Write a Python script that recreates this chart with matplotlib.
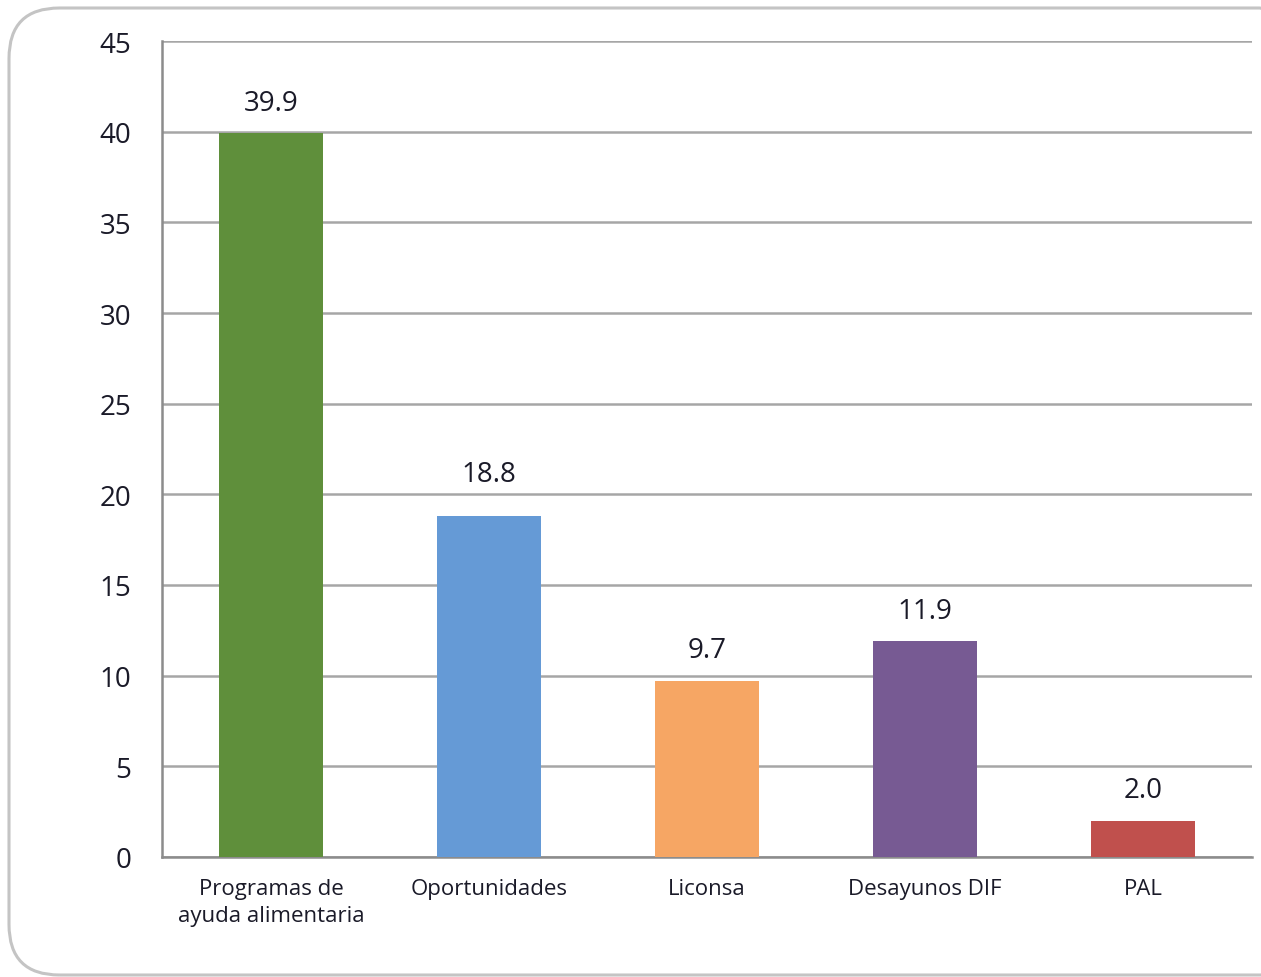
import matplotlib
matplotlib.use("Agg")
import matplotlib.pyplot as plt
from matplotlib.patches import FancyBboxPatch

categories = ["Programas de\nayuda alimentaria", "Oportunidades", "Liconsa", "Desayunos DIF", "PAL"]
values = [39.9, 18.8, 9.7, 11.9, 2.0]
colors = ["#5f8f3b", "#659ad6", "#f6a664", "#775a93", "#c0504d"]
yticks = [0, 5, 10, 15, 20, 25, 30, 35, 40, 45]
label_offsets = [12, 20, 12, 12, 12]

plt.rcParams['font.family'] = ['Open Sans', 'DejaVu Sans']
TXT = "#1a1a28"

fig = plt.figure(figsize=(12.61, 9.78), dpi=100)
W, H = 1261, 978

# rounded border
box = FancyBboxPatch((9 / W, 2 / H), (W + 40) / W, (H - 11) / H,
                     boxstyle="round,pad=0,rounding_size=0.04",
                     transform=fig.transFigure, fill=False,
                     edgecolor="#c4c4c4", linewidth=2.2, mutation_aspect=W / H)
fig.patches.append(box)

ax = fig.add_axes([162 / W, 1 - 858 / H, 1090 / W, 816 / H])
x = list(range(len(categories)))
ax.bar(x, values, width=0.48, color=colors, zorder=3)
ax.set_xlim(-0.5, len(categories) - 0.5)
ax.set_ylim(0, 45)
ax.set_yticks(yticks)
ax.set_yticklabels([str(t) for t in yticks])
ax.set_xticks(x)
ax.set_xticklabels(categories, fontsize=16, color=TXT, linespacing=1.4)
ax.tick_params(axis='y', labelsize=20, colors=TXT, length=0, pad=22)
ax.tick_params(axis='x', length=0, pad=15)
ax.yaxis.grid(True, color="#a6a6a6", linewidth=1.8, zorder=0)
ax.set_axisbelow(True)
for s in ["top", "right"]:
    ax.spines[s].set_visible(False)
for s in ["left", "bottom"]:
    ax.spines[s].set_color("#8c8c8c")
    ax.spines[s].set_linewidth(1.8)

for xi, v, off in zip(x, values, label_offsets):
    ax.annotate(f"{v:.1f}", (xi, v), xytext=(0, off), textcoords="offset points",
                ha="center", va="bottom", fontsize=20, color=TXT)

fig.savefig("out.png", dpi=100)
